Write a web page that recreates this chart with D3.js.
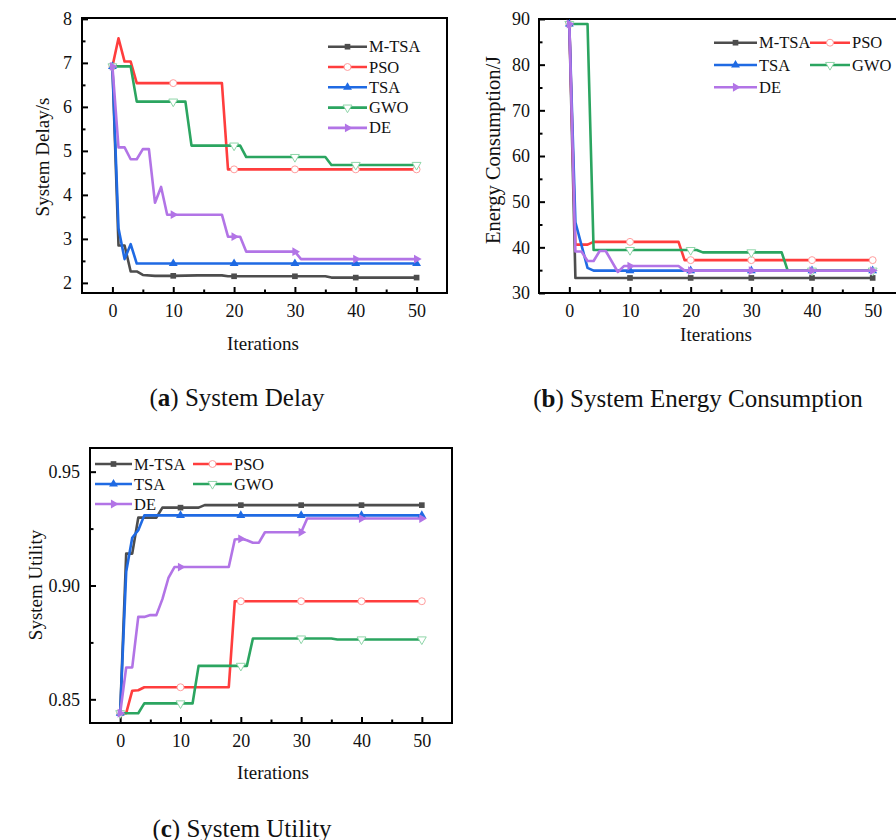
<!DOCTYPE html>
<html>
<head>
<meta charset="utf-8">
<script src="https://cdn.jsdelivr.net/npm/d3@7"></script>
<style>
  body { margin: 0; background: #fff; }
  svg { display: block; font-family: "Liberation Serif", "Times New Roman", serif; }
</style>
</head>
<body>
<svg id="fig" width="896" height="840"></svg>
<script>
// algorithms in legend order
const algorithms = ['M-TSA', 'PSO', 'TSA', 'GWO', 'DE'];
const colors = ['#4d4d4d', '#ff3d3d', '#1f6ae3', '#2ba560', '#b274e6'];
const markerIters = [0, 10, 20, 30, 40, 50];

const iterTicks = [0, 10, 20, 30, 40, 50];
const iterMinor = [5, 15, 25, 35, 45];
const delayTicks = [2, 3, 4, 5, 6, 7, 8];
const delayMinor = [2.5, 3.5, 4.5, 5.5, 6.5, 7.5];
const energyTicks = [30, 40, 50, 60, 70, 80, 90];
const energyMinor = [35, 45, 55, 65, 75, 85];
const utilityTicks = [0.85, 0.90, 0.95];
const utilityMinor = [0.875, 0.925];

// (a) system delay, [iteration, value]
const delayMTSA = [[0, 6.92], [1, 2.85], [2, 2.85], [3, 2.26], [4, 2.26], [5, 2.18], [7, 2.16], [10, 2.16], [14, 2.17], [18, 2.17], [19, 2.15], [20, 2.15], [30, 2.15], [35, 2.15], [36, 2.12], [40, 2.12], [50, 2.12]];
const delayPSO = [[0, 6.92], [1, 7.56], [2, 7.03], [3, 7.03], [4, 6.54], [10, 6.54], [18, 6.54], [19, 4.58], [20, 4.58], [30, 4.58], [40, 4.58], [50, 4.58]];
const delayTSA = [[0, 6.92], [1, 3.24], [2, 2.54], [3, 2.88], [4, 2.44], [10, 2.44], [20, 2.44], [30, 2.44], [40, 2.44], [50, 2.44]];
const delayGWO = [[0, 6.92], [3, 6.92], [4, 6.12], [10, 6.12], [12, 6.12], [13, 5.12], [20, 5.12], [21, 5.12], [22, 4.86], [30, 4.86], [35, 4.86], [36, 4.68], [40, 4.68], [50, 4.68]];
const delayDE = [[0, 6.92], [1, 5.08], [2, 5.08], [3, 4.81], [4, 4.81], [5, 5.04], [6, 5.04], [7, 3.82], [8, 4.18], [9, 3.55], [10, 3.55], [18, 3.55], [19, 3.05], [20, 3.05], [21, 3.05], [22, 2.71], [30, 2.71], [31, 2.54], [40, 2.54], [50, 2.54]];

// (b) energy consumption
const energyMTSA = [[0, 88.9], [1, 33.3], [10, 33.3], [20, 33.3], [30, 33.3], [40, 33.3], [50, 33.3]];
const energyPSO = [[0, 88.9], [1, 40.6], [3, 40.6], [4, 41.2], [10, 41.2], [18, 41.2], [19, 37.2], [20, 37.2], [30, 37.2], [40, 37.2], [50, 37.2]];
const energyTSA = [[0, 88.9], [1, 45.5], [3, 35.5], [4, 34.9], [10, 34.9], [20, 34.9], [30, 34.9], [40, 34.9], [50, 34.9]];
const energyGWO = [[0, 88.9], [3, 88.9], [4, 39.4], [10, 39.4], [20, 39.4], [21, 39.4], [22, 38.9], [30, 38.9], [35, 38.9], [36, 34.9], [40, 34.9], [50, 34.9]];
const energyDE = [[0, 88.9], [1, 39.1], [2, 39.1], [3, 37.0], [4, 37.0], [5, 39.2], [6, 39.2], [8, 34.6], [9, 35.9], [10, 35.9], [18, 35.9], [19, 34.9], [20, 34.9], [30, 34.9], [40, 34.9], [50, 34.9]];

// (c) system utility
const utilityMTSA = [[0, 0.8439], [1, 0.9140], [2, 0.9140], [3, 0.9298], [6, 0.9298], [7, 0.9342], [10, 0.9342], [13, 0.9342], [14, 0.9353], [20, 0.9353], [30, 0.9353], [40, 0.9353], [50, 0.9353]];
const utilityPSO = [[0, 0.8439], [1, 0.8439], [2, 0.8538], [3, 0.8540], [4, 0.8553], [10, 0.8553], [18, 0.8553], [19, 0.8931], [20, 0.8931], [30, 0.8931], [40, 0.8931], [50, 0.8931]];
const utilityTSA = [[0, 0.8439], [1, 0.9060], [2, 0.9210], [3, 0.9243], [4, 0.9308], [10, 0.9308], [20, 0.9308], [30, 0.9308], [40, 0.9308], [50, 0.9308]];
const utilityGWO = [[0, 0.8439], [3, 0.8439], [4, 0.8482], [10, 0.8482], [12, 0.8482], [13, 0.8647], [20, 0.8647], [21, 0.8647], [22, 0.8767], [30, 0.8767], [35, 0.8767], [36, 0.8763], [40, 0.8763], [50, 0.8763]];
const utilityDE = [[0, 0.8439], [1, 0.8640], [2, 0.8640], [3, 0.8862], [4, 0.8862], [5, 0.8870], [6, 0.8870], [7, 0.8940], [8, 0.9033], [9, 0.9081], [10, 0.9081], [18, 0.9081], [19, 0.9202], [20, 0.9205], [21, 0.9199], [22, 0.9188], [23, 0.9188], [24, 0.9234], [30, 0.9234], [31, 0.9294], [40, 0.9294], [50, 0.9294]];

class ConvergenceChart {
    constructor(_config, _data) {
        this.config = _config;
        this.data = _data;
        this.initVis();
    }

    initVis() {
        let vis = this;
        const c = vis.config;
        vis.svg = d3.select(c.parentElement);
        vis.g = vis.svg.append('g');

        vis.x = d3.scaleLinear().domain([-5, 55]).range([c.left, c.right]);
        vis.y = d3.scaleLinear().domain(c.yDomain).range([c.bottom, c.top]);

        // minor ticks first, then major with labels
        vis.g.append('g')
            .attr('transform', `translate(0,${c.bottom})`)
            .call(d3.axisBottom(vis.x).tickValues(iterMinor).tickSize(-3.5).tickFormat(''));
        vis.g.append('g')
            .attr('transform', `translate(0,${c.bottom})`)
            .call(d3.axisBottom(vis.x).tickValues(iterTicks).tickSize(-6).tickPadding(11).tickFormat(d3.format('d')));
        vis.g.append('g')
            .attr('transform', `translate(${c.left},0)`)
            .call(d3.axisLeft(vis.y).tickValues(c.yMinor).tickSize(-3.5).tickFormat(''));
        vis.g.append('g')
            .attr('transform', `translate(${c.left},0)`)
            .call(d3.axisLeft(vis.y).tickValues(c.yTicks).tickSize(-6).tickPadding(c.yPad).tickFormat(c.yFormat));

        vis.g.selectAll('.domain').remove();
        vis.g.selectAll('.tick line').attr('stroke', '#000').attr('stroke-width', 2);
        vis.g.selectAll('.tick text')
            .attr('fill', '#111')
            .style('font-family', '"Liberation Serif", "Times New Roman", serif')
            .style('font-size', '18px');

        vis.g.append('rect')
            .attr('x', c.left).attr('y', c.top)
            .attr('width', c.right - c.left).attr('height', c.bottom - c.top)
            .attr('fill', 'none').attr('stroke', '#000').attr('stroke-width', 2);

        vis.g.append('text')
            .attr('transform', `translate(${c.yLabelPos[0]},${c.yLabelPos[1]}) rotate(-90)`)
            .attr('text-anchor', 'middle').attr('dominant-baseline', 'central')
            .style('font-size', c.yLabelSize + 'px').attr('fill', '#111')
            .text(c.yLabel);
        vis.g.append('text')
            .attr('x', c.xLabelPos[0]).attr('y', c.xLabelPos[1])
            .attr('text-anchor', 'middle').attr('dominant-baseline', 'central')
            .style('font-size', '19px').attr('fill', '#111')
            .text('Iterations');

        const cap = vis.g.append('text')
            .attr('x', c.captionPos[0]).attr('y', c.captionPos[1])
            .attr('text-anchor', 'middle').attr('dominant-baseline', 'central')
            .style('font-size', '25px').attr('fill', '#111');
        cap.append('tspan').text('(');
        cap.append('tspan').attr('font-weight', 'bold').text(c.letter);
        cap.append('tspan').text(') ' + c.caption);

        this.updateVis();
    }

    symbolPath(i) {
        const types = [d3.symbolSquare, d3.symbolCircle, d3.symbolTriangle, d3.symbolTriangle, d3.symbolTriangle];
        const sizes = [32, 38, 34, 34, 34];
        return d3.symbol().type(types[i]).size(sizes[i])();
    }

    markerStyle(sel, i) {
        const rot = [0, 0, 0, 180, 90][i];
        sel.attr('d', this.symbolPath(i))
            .attr('fill', (i === 1 || i === 3) ? '#fff' : colors[i])
            .attr('stroke', i === 1 ? '#ff9d9d' : (i === 3 ? '#8fd6a9' : 'none'))
            .attr('stroke-width', 1)
            .attr('data-rot', rot);
        return sel;
    }

    updateVis() {
        let vis = this;
        const c = vis.config;
        const line = d3.line().x(d => vis.x(d[0])).y(d => vis.y(d[1]));

        vis.data.forEach((series, i) => {
            vis.g.append('path')
                .datum(series)
                .attr('d', line)
                .attr('fill', 'none')
                .attr('stroke', colors[i])
                .attr('stroke-width', 2.6)
                .attr('stroke-linejoin', 'round');

            const pts = series.filter(d => markerIters.includes(d[0]));
            const rot = [0, 0, 0, 180, 90][i];
            vis.markerStyle(vis.g.selectAll(null).data(pts).enter().append('path'), i)
                .attr('transform', d => `translate(${vis.x(d[0])},${vis.y(d[1])}) rotate(${rot})`);
        });

        // legend
        const lg = c.legend;
        algorithms.forEach((name, i) => {
            const p = lg[i];
            const row = vis.g.append('g');
            row.append('line')
                .attr('x1', p[0]).attr('x2', p[1]).attr('y1', p[2]).attr('y2', p[2])
                .attr('stroke', colors[i]).attr('stroke-width', 2.6);
            const rot = [0, 0, 0, 180, 90][i];
            vis.markerStyle(row.append('path'), i)
                .attr('transform', `translate(${(p[0] + p[1]) / 2},${p[2]}) rotate(${rot})`);
            row.append('text')
                .attr('x', p[1] + 2).attr('y', p[2])
                .attr('dominant-baseline', 'central')
                .style('font-size', '16.5px').attr('fill', '#111')
                .text(name);
        });
    }
}

new ConvergenceChart({
    parentElement: '#fig',
    left: 82, right: 447, top: 18, bottom: 293,
    yDomain: [1.77, 8.02],
    yTicks: delayTicks, yMinor: delayMinor, yFormat: d3.format('d'), yPad: 10,
    yLabel: 'System Delay/s', yLabelSize: 19, yLabelPos: [42, 157],
    xLabelPos: [263, 343],
    letter: 'a', caption: 'System Delay', captionPos: [237, 397],
    legend: [[328, 367, 46.7], [328, 367, 67], [328, 367, 87.3], [328, 367, 107.6], [328, 367, 127.9]]
}, [delayMTSA, delayPSO, delayTSA, delayGWO, delayDE]);

new ConvergenceChart({
    parentElement: '#fig',
    left: 539, right: 903, top: 19, bottom: 293,
    yDomain: [30, 90],
    yTicks: energyTicks, yMinor: energyMinor, yFormat: d3.format('d'), yPad: 9,
    yLabel: 'Energy Consumption/J', yLabelSize: 20.5, yLabelPos: [493, 150],
    xLabelPos: [716, 334],
    letter: 'b', caption: 'System Energy Consumption', captionPos: [698, 398],
    legend: [[714, 757, 42.7], [810, 850, 42.7], [714, 757, 65], [810, 850, 65], [714, 757, 87.3]]
}, [energyMTSA, energyPSO, energyTSA, energyGWO, energyDE]);

new ConvergenceChart({
    parentElement: '#fig',
    left: 90, right: 452, top: 448, bottom: 723,
    yDomain: [0.8396, 0.9604],
    yTicks: utilityTicks, yMinor: utilityMinor, yFormat: d3.format('.2f'), yPad: 10,
    yLabel: 'System Utility', yLabelSize: 19, yLabelPos: [35, 585],
    xLabelPos: [273, 772],
    letter: 'c', caption: 'System Utility', captionPos: [242, 828],
    legend: [[95, 132, 464], [193, 232, 464], [95, 132, 484], [193, 232, 484], [95, 132, 504]]
}, [utilityMTSA, utilityPSO, utilityTSA, utilityGWO, utilityDE]);
</script>
</body>
</html>
